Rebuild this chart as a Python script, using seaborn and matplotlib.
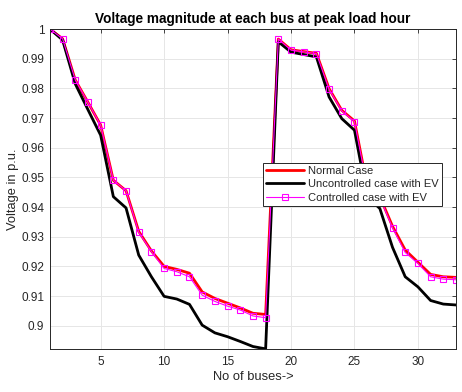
import numpy as np
import pandas as pd
import matplotlib
matplotlib.use("Agg")
import matplotlib.pyplot as plt
import seaborn as sns
from matplotlib.ticker import FormatStrFormatter

# bus numbers 1..33
buses = list(range(1, 34))

normal_case = [
    1.0000, 0.9967, 0.9828, 0.9753, 0.9676, 0.9490, 0.9455, 0.9318, 0.9252, 0.9200,
    0.9190, 0.9177, 0.9114, 0.9092, 0.9076, 0.9060, 0.9042, 0.9038, 0.9966, 0.9930,
    0.9924, 0.9918, 0.9799, 0.9726, 0.9690, 0.9470, 0.9435, 0.9335, 0.9255, 0.9214,
    0.9173, 0.9165, 0.9163,
]
uncontrolled_ev = [
    1.0000, 0.9963, 0.9815, 0.9728, 0.9642, 0.9435, 0.9397, 0.9238, 0.9165, 0.9099,
    0.9090, 0.9072, 0.9002, 0.8976, 0.8963, 0.8947, 0.8930, 0.8922, 0.9957, 0.9922,
    0.9914, 0.9906, 0.9771, 0.9698, 0.9659, 0.9435, 0.9395, 0.9264, 0.9165, 0.9131,
    0.9085, 0.9073, 0.9070,
]
controlled_ev = [
    1.0000, 0.9967, 0.9828, 0.9753, 0.9676, 0.9490, 0.9455, 0.9315, 0.9250, 0.9193,
    0.9182, 0.9165, 0.9103, 0.9082, 0.9066, 0.9053, 0.9033, 0.9027, 0.9966, 0.9929,
    0.9923, 0.9917, 0.9797, 0.9724, 0.9688, 0.9467, 0.9432, 0.9330, 0.9247, 0.9210,
    0.9165, 0.9157, 0.9155,
]

df = pd.DataFrame({
    "bus": buses,
    "Normal Case": normal_case,
    "Uncontrolled case with EV": uncontrolled_ev,
    "Controlled case with EV": controlled_ev,
})

sns.set_style("white")
plt.rcParams["font.family"] = ["Liberation Sans", "DejaVu Sans"]

fig = plt.figure(figsize=(4.62, 3.92), dpi=100)
ax = fig.add_axes([0.108, 0.110, 0.879, 0.816])

sns.lineplot(data=df, x="bus", y="Normal Case", ax=ax, color="#ff0000",
             linewidth=2, label="Normal Case")
sns.lineplot(data=df, x="bus", y="Uncontrolled case with EV", ax=ax, color="#000000",
             linewidth=2, label="Uncontrolled case with EV")
sns.lineplot(data=df, x="bus", y="Controlled case with EV", ax=ax, color="#ff00ff",
             linewidth=0.8, marker="s", markersize=5, markerfacecolor="none",
             markeredgecolor="#ff00ff", markeredgewidth=0.8,
             label="Controlled case with EV")

ax.set_xlim(1, 33)
ax.set_ylim(min(uncontrolled_ev), 1.0)
ax.set_xticks([5, 10, 15, 20, 25, 30])
ax.set_yticks(np.arange(0.90, 1.001, 0.01))
ax.yaxis.set_major_formatter(FormatStrFormatter("%g"))
ax.grid(True, color="#e6e6e6", linewidth=0.7)
ax.tick_params(direction="in", length=3, width=0.6, labelsize=8.5,
               colors="#262626", top=True, right=True,
               labeltop=False, labelright=False)
ax.tick_params(axis="x", pad=5)
ax.tick_params(axis="y", pad=4)
for s in ax.spines.values():
    s.set_color("#262626")
    s.set_linewidth(0.7)

ax.set_title("Voltage magnitude at each bus at peak load hour",
             fontsize=9.8, fontweight="bold", color="#000000", pad=4)
ax.set_xlabel("No of buses->", fontsize=9.3, color="#262626", labelpad=2)
ax.set_ylabel("Voltage in p.u.", fontsize=9.3, color="#262626", labelpad=2)

leg = ax.legend(loc="upper left", bbox_to_anchor=(0.525, 0.582), fontsize=8,
                frameon=True, fancybox=False, edgecolor="#262626",
                handlelength=3.4, handletextpad=0.3, labelspacing=0.3,
                borderpad=0.3, borderaxespad=0)
leg.get_frame().set_linewidth(0.7)
leg.get_frame().set_alpha(1)

fig.savefig("out.png", dpi=100)
